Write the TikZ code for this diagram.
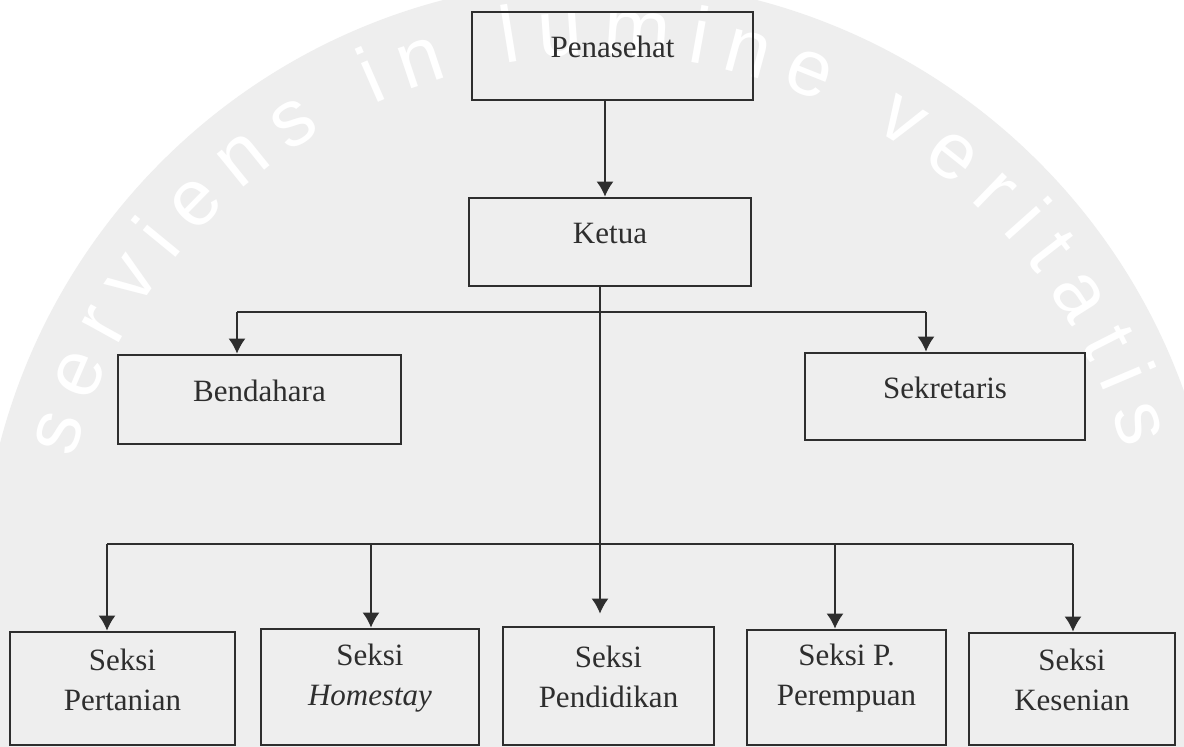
\documentclass[tikz,border=0pt]{standalone}
\usepackage{fontspec}
\setmainfont{Liberation Serif}
\newfontfamily\markfont{Liberation Sans}
\usepackage{tikz}
\usetikzlibrary{arrows.meta, calc, decorations.text}
\tikzset{>={Latex[length=7.5pt,width=8.5pt]}}
\definecolor{ink}{HTML}{2E2E2E}
\definecolor{markgray}{HTML}{EEEEEE}
\tikzstyle{box} = [draw=ink, line width=1.4pt, inner sep=0pt]
\tikzstyle{boxtext} = [text=ink, align=center, font=\fontsize{15.5}{20}\selectfont, inner sep=0pt]
\tikzstyle{link} = [draw=ink, line width=0.8pt]
\tikzstyle{arr} = [link, ->]
\newcommand{\orgbox}[6]{
\node[box, minimum width={(#4-#2)*0.5pt}, minimum height={(#5-#3)*0.5pt}] (#1) at ({(#2+#4)/2},{(#3+#5)/2}) {};
\node[boxtext] (#1 text) at ([yshift=4.5pt]#1.center) {#6};
}

\begin{document}
\begin{tikzpicture}[x=0.5pt, y=-0.5pt]
		\useasboundingbox (0,0) rectangle (1184,746);
		\fill[white] (0,0) rectangle (1184,746);
		
		% Watermark
		\begin{scope}
			\clip (0,0) rectangle (1184,746);
			\fill[markgray] (600,600) circle[radius=620];
			\path[decorate, decoration={text along path, text align={fit to path}, text color=white,
				text={|\markfont\fontsize{40}{40}\selectfont|serviens in lumine veritatis}}]
				(600,600) ++(-165:545) arc[start angle=-165, end angle=-16, radius=545];
		\end{scope}
		
		% Boxes
		\orgbox{Penasehat}{472}{12}{753}{100}{Penasehat}
		\orgbox{Ketua}{469}{198}{751}{286}{Ketua}
		\orgbox{Bendahara}{118}{355}{401}{444}{Bendahara}
		\orgbox{Sekretaris}{805}{353}{1085}{440}{Sekretaris}
		\orgbox{Pertanian}{10}{632}{235}{745}{Seksi\\Pertanian}
		\orgbox{Homestay}{261}{629}{479}{745}{Seksi\\\textit{Homestay}}
		\orgbox{Pendidikan}{503}{627}{714}{745}{Seksi\\Pendidikan}
		\orgbox{Perempuan}{747}{630}{946}{745}{Seksi P.\\Perempuan}
		\orgbox{Kesenian}{969}{633}{1175}{745}{Seksi\\Kesenian}
		
		% Coordinates
		\coordinate (P1) at (605,100);
		\coordinate (K1) at (600,286);
		\coordinate (L1) at (237,312);
		\coordinate (R1) at (926,312);
		\coordinate (L2) at (107,544);
		\coordinate (R2) at (1073,544);
		
		% Upper level
		\draw[arr] (P1) -- (P1 |- Ketua.north);
		\draw[link] (L1) -- (R1);
		\draw[arr] (L1) -- (L1 |- Bendahara.north);
		\draw[arr] (R1) -- (R1 |- Sekretaris.north);
		
		% Lower level
		\draw[arr, shorten >=6pt] (K1) -- (K1 |- Pendidikan.north);
		\draw[link] (L2) -- (R2);
		\foreach \x/\b in {107/Pertanian, 371/Homestay, 835/Perempuan, 1073/Kesenian}
		{
			\coordinate (B\b) at (\x,544);
			\draw[arr] (B\b) -- (B\b |- \b.north);
		}
	\end{tikzpicture}
\end{document}
